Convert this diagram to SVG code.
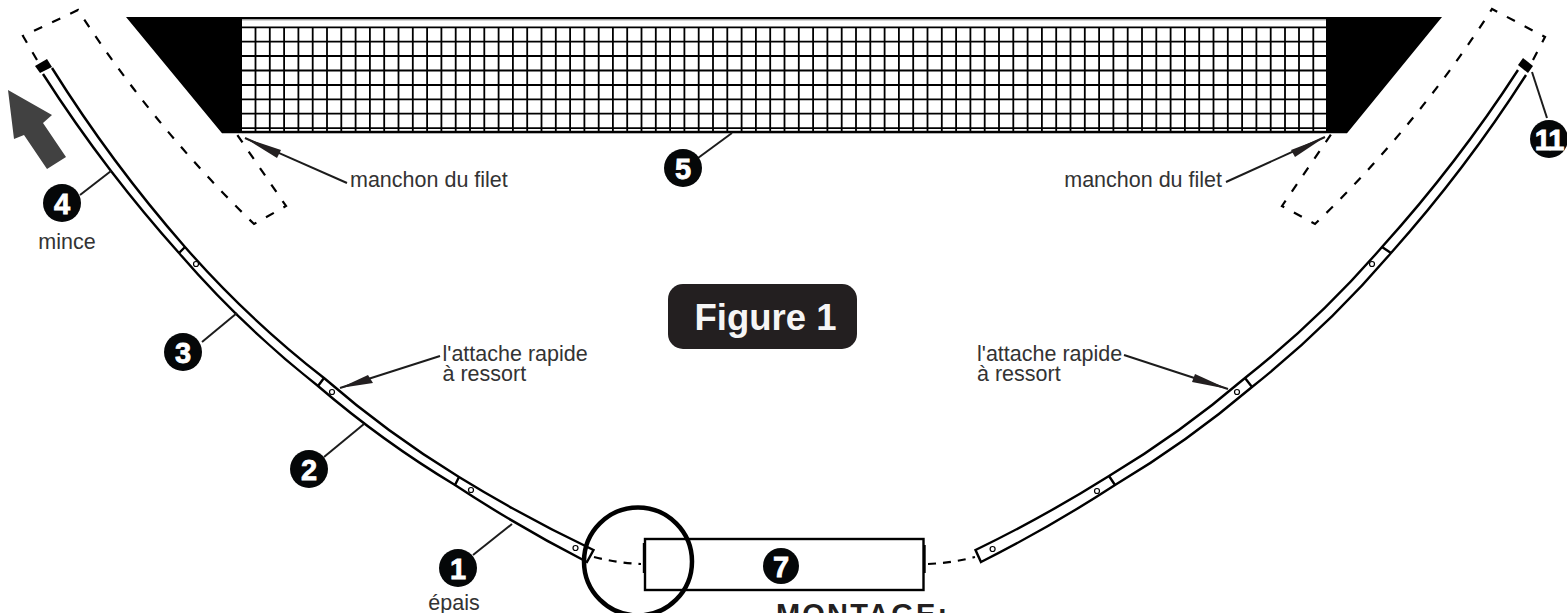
<svg xmlns="http://www.w3.org/2000/svg" width="1567" height="613" viewBox="0 0 1567 613">
<style>
.t{font-family:"Liberation Sans",Arial,sans-serif;font-size:21.500px;fill:#333}
.num{font-family:"Liberation Sans",Arial,sans-serif;font-size:29px;font-weight:bold;fill:#fff;text-anchor:middle;stroke:#fff;stroke-width:.8}
.dot{fill:#050708}
.pole{fill:none;stroke:#000;stroke-width:2.400}
.lead{fill:none;stroke:#1c1c1c;stroke-width:2}
.ring{fill:#fff;stroke:#000;stroke-width:1.200}
.dash{fill:none;stroke:#000;stroke-width:2.200;stroke-dasharray:9 11}
.head{fill:#231f20}
</style>
<g id="sleeve-dashes">
<path class="dash" d="M37 60L23 36L78 10Q154 127 254 224L286 206L236 133"/>
<path class="dash" d="M1533 60L1545 37L1492 9Q1416 127 1315 224L1282 206L1332 133"/>
</g>
<g id="net-5">
<rect x="242" y="17" width="1084" height="116.500" fill="#fff"/>
<path d="M242 19.800H1326" stroke="#777" stroke-width="1" fill="none"/>
<path d="M242 27.300H1326M242 41.700H1326M242 56H1326M242 70.500H1326M242 85H1326M242 99.300H1326M242 113.700H1326M242 128.100H1326" stroke="#000" stroke-width="1.800" fill="none"/>
<path d="M255.500 27V131M269.800 27V131M284.100 27V131M298.400 27V131M312.700 27V131M327 27V131M341.300 27V131M355.600 27V131M369.900 27V131M384.200 27V131M398.500 27V131M412.800 27V131M427.100 27V131M441.400 27V131M455.700 27V131M470 27V131M484.300 27V131M498.600 27V131M512.900 27V131M527.200 27V131M541.500 27V131M555.800 27V131M570.100 27V131M584.400 27V131M598.700 27V131M612.900 27V131M627.200 27V131M641.500 27V131M655.800 27V131M670.100 27V131M684.400 27V131M698.700 27V131M713 27V131M727.300 27V131M741.600 27V131M755.900 27V131M770.200 27V131M784.500 27V131M798.800 27V131M813.100 27V131M827.400 27V131M841.700 27V131M856 27V131M870.300 27V131M884.600 27V131M898.900 27V131M913.200 27V131M927.500 27V131M941.800 27V131M956.100 27V131M970.400 27V131M984.700 27V131M999 27V131M1013.300 27V131M1027.600 27V131M1041.900 27V131M1056.200 27V131M1070.500 27V131M1084.800 27V131M1099.100 27V131M1113.400 27V131M1127.700 27V131M1142 27V131M1156.300 27V131M1170.600 27V131M1184.900 27V131M1199.200 27V131M1213.500 27V131M1227.800 27V131M1242.100 27V131M1256.400 27V131M1270.700 27V131M1285 27V131M1299 27V131M1313.300 27V131" stroke="#000" stroke-width="1.800" fill="none"/>
<path d="M126 17H1442L1347 133.300H1326V19H242V133.300H222Z" fill="#000"/>
<rect x="242" y="130.800" width="1084" height="2.500" fill="#000"/>
</g>
<g id="pole-left">
<path class="pole" d="M43 74A1400 1400 0 0 0 111 171A1400 1400 0 0 0 179 253A1000 1000 0 0 0 318 386A1000 1000 0 0 0 455 485A1400 1400 0 0 0 587 562L593.500 550A1400 1400 0 0 1 459 477A1000 1000 0 0 1 324 378A1000 1000 0 0 1 185 247A1400 1400 0 0 1 52 68"/>
<path class="pole" d="M179 253L185 247M318 386L324 378M455 485L459 477"/>
<polygon points="35,66 47,59 52,67 40,73" fill="#000"/>
<circle class="ring" cx="196" cy="264" r="2.500"/>
<circle class="ring" cx="332" cy="392" r="2.500"/>
<circle class="ring" cx="471" cy="490" r="2.500"/>
<circle class="ring" cx="575.500" cy="548" r="2.500"/>
</g>
<g id="pole-right">
<path class="pole" d="M1526 75A1400 1400 0 0 1 1391 253A1000 1000 0 0 1 1252 387A1000 1000 0 0 1 1115 485A1400 1400 0 0 1 981 562L975.500 550A1400 1400 0 0 0 1109 476A1000 1000 0 0 0 1245 378A1000 1000 0 0 0 1382 247A1400 1400 0 0 0 1518 70"/>
<path class="pole" d="M1382 247L1391 253M1245 378L1252 387M1109 476L1115 485"/>
<polygon points="1518,65 1523,58 1533,66 1528,73" fill="#000"/>
<circle class="ring" cx="1372" cy="264" r="2.500"/>
<circle class="ring" cx="1237" cy="392" r="2.500"/>
<circle class="ring" cx="1097" cy="491" r="2.500"/>
<circle class="ring" cx="992.600" cy="549" r="2.500"/>
</g>
<g id="node-7">
<rect x="645" y="539" width="278.500" height="51" fill="#fff" stroke="#000" stroke-width="2.400"/>
<path d="M644 543V573M924.500 545V573" stroke="#000" stroke-width="2.400"/>
<circle class="dot" cx="781" cy="566" r="18"/>
<text class="num" x="781" y="576.500">7</text>
</g>
<g id="connectors">
<path class="dash" style="stroke-dasharray:8 7" d="M594 557Q618 563 641 564"/>
<path class="dash" style="stroke-dasharray:8 7" d="M928 564Q952 563 975 557"/>
<path class="lead" d="M111 171L80 195"/>
<path class="lead" d="M237 313L202 342"/>
<path class="lead" d="M364 424L324 457"/>
<path class="lead" d="M512 524L473 555"/>
<path class="lead" d="M732 133L698 158"/>
<path class="lead" d="M1532 72L1547 118"/>
<path class="lead" d="M347 183L245 138"/>
<path class="lead" d="M1226 182L1325 137"/>
<path class="lead" d="M440 356L340 388"/>
<path class="lead" d="M1124 355L1228 389"/>
<polygon class="head" points="245,138 281,150 277,158"/>
<polygon class="head" points="1325,137 1291,150 1295,157"/>
<polygon class="head" points="340,388 368,375 373,383"/>
<polygon class="head" points="1228,389 1195,374 1192,382"/>
</g>
<g id="highlight-circle"><circle cx="638" cy="561.500" r="54" fill="none" stroke="#000" stroke-width="4.500"/></g>
<g id="arrow"><polygon points="8,90 52,115 43,123 66,157 47,169 24,135 14,139" fill="#414141"/></g>
<g id="node-1"><circle class="dot" cx="458" cy="568" r="19"/><text class="num" x="458" y="578.500">1</text><text class="t" x="454" y="610" text-anchor="middle">épais</text></g>
<g id="node-2"><circle class="dot" cx="309" cy="469" r="19"/><text class="num" x="309" y="479.500">2</text></g>
<g id="node-3"><circle class="dot" cx="183" cy="352" r="19"/><text class="num" x="183" y="362.500">3</text></g>
<g id="node-4"><circle class="dot" cx="62" cy="203" r="19"/><text class="num" x="62" y="213.500">4</text><text class="t" x="67" y="249.300" text-anchor="middle">mince</text></g>
<g id="node-5"><circle class="dot" cx="683" cy="168" r="19"/><text class="num" x="683" y="178.500">5</text></g>
<g id="node-11"><circle class="dot" cx="1549" cy="139" r="19"/><text class="num" x="1549" y="149.500" letter-spacing="-1">11</text></g>
<g id="labels">
<text class="t" x="350" y="187">manchon du filet</text>
<text class="t" x="1222" y="187" text-anchor="end">manchon du filet</text>
<text class="t" x="442.500" y="360.500">l'attache rapide</text>
<text class="t" x="442.500" y="380.500">à ressort</text>
<text class="t" x="977" y="360.500">l'attache rapide</text>
<text class="t" x="977" y="380.500">à ressort</text>
</g>
<g id="figure-title">
<rect x="668" y="284" width="189" height="65" rx="15" fill="#231f20"/>
<text x="765.500" y="330" text-anchor="middle" font-family="Liberation Sans, Arial, sans-serif" font-size="36.500" font-weight="bold" fill="#f5f5f5">Figure 1</text>
</g>
<text id="montage" x="776" y="624" font-family="Liberation Sans, Arial, sans-serif" font-size="29" font-weight="bold" letter-spacing="2.200" fill="#231f20">MONTAGE:</text>
</svg>
